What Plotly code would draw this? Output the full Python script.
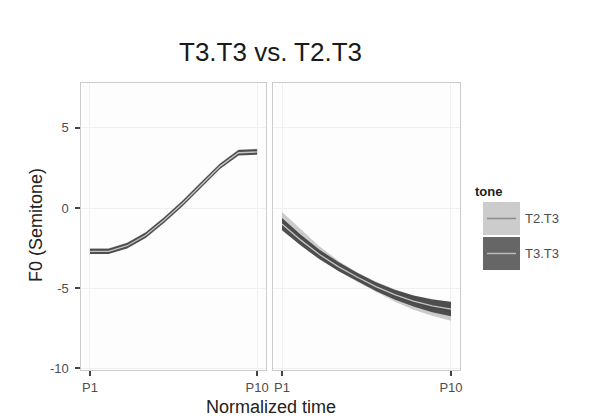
import plotly.graph_objects as go

# ---- data ----
positions = ["P1", "P2", "P3", "P4", "P5", "P6", "P7", "P8", "P9", "P10"]
tones = ["T2.T3", "T3.T3"]

left_t2t3 = [-2.65, -2.65, -2.3, -1.65, -0.7, 0.35, 1.5, 2.65, 3.5, 3.55]
left_t3t3 = [-2.7, -2.7, -2.35, -1.7, -0.75, 0.3, 1.45, 2.6, 3.45, 3.5]
left_se_t2t3 = [0.15, 0.15, 0.15, 0.15, 0.15, 0.15, 0.15, 0.15, 0.15, 0.15]
left_se_t3t3 = [0.17, 0.17, 0.17, 0.17, 0.17, 0.17, 0.17, 0.17, 0.17, 0.17]

right_t2t3 = [-0.75, -1.75, -2.75, -3.6, -4.3, -4.9, -5.45, -5.9, -6.2, -6.45]
right_t3t3 = [-1.0, -2.0, -2.9, -3.65, -4.3, -4.9, -5.4, -5.8, -6.1, -6.3]
right_se_t2t3 = [0.5, 0.42, 0.36, 0.32, 0.3, 0.32, 0.38, 0.45, 0.52, 0.58]
right_se_t3t3 = [0.38, 0.34, 0.3, 0.28, 0.27, 0.27, 0.3, 0.34, 0.4, 0.45]

y_ticks = [-10, -5, 0, 5]
y_ticktext = ["-10 ", "-5 ", "0 ", "5 "]

# ---- styles ----
ribbon_fill = {"T2.T3": "rgba(190,190,190,0.8)", "T3.T3": "rgba(70,70,70,0.95)"}
line_col = {"T2.T3": "#808080", "T3.T3": "#c4c4c4"}
key_fill = {"T2.T3": "#cccccc", "T3.T3": "#666666"}
key_line = {"T2.T3": "#8a8a8a", "T3.T3": "#bbbbbb"}

OFF = 8  # page body margin
W, H = 606 - OFF, 419 - OFF
ML, MT = 81 - OFF, 83 - OFF
PW, PH = 379, 287
MR = W - ML - PW
MB = H - MT - PH


def px(x):
    return (x - OFF - ML) / PW


def py(y):
    return (H - MB - (y - OFF)) / PH


xi = list(range(1, len(positions) + 1))
fig = go.Figure()

panels = [
    ("x", "y", {"T2.T3": (left_t2t3, left_se_t2t3), "T3.T3": (left_t3t3, left_se_t3t3)}),
    ("x2", "y2", {"T2.T3": (right_t2t3, right_se_t2t3), "T3.T3": (right_t3t3, right_se_t3t3)}),
]
for xa, ya, series in panels:
    for tone in tones:
        mean, se = series[tone]
        upper = [m + s for m, s in zip(mean, se)]
        lower = [m - s for m, s in zip(mean, se)]
        fig.add_trace(go.Scatter(
            x=xi + xi[::-1], y=upper + lower[::-1], fill="toself",
            fillcolor=ribbon_fill[tone], line=dict(width=0), mode="lines",
            xaxis=xa, yaxis=ya, showlegend=False, hoverinfo="skip"))
        fig.add_trace(go.Scatter(
            x=xi, y=mean, mode="lines", line=dict(color=line_col[tone], width=1.3),
            xaxis=xa, yaxis=ya, showlegend=False, name=tone))

font_main = "Liberation Sans, Arial, sans-serif"
tickfont = dict(family=font_main, size=13, color="#4d4d4d")

xaxis_common = dict(
    range=[0.52, 10.48], tickvals=[1, 10], ticktext=[positions[0], positions[-1]],
    showgrid=True, gridcolor="#f0f0f0", gridwidth=1, zeroline=False,
    showline=True, mirror=True, linecolor="#cccccc", linewidth=1,
    ticks="outside", ticklen=5, tickcolor="#444444", tickwidth=1.5,
    tickfont=tickfont,
)
yaxis_common = dict(
    range=[-10.1, 7.8], tickvals=y_ticks, ticktext=y_ticktext,
    showgrid=True, gridcolor="#f0f0f0", gridwidth=1, zeroline=False,
    showline=True, mirror=True, linecolor="#cccccc", linewidth=1,
    tickfont=tickfont,
)

fig.update_layout(
    width=W, height=H,
    margin=dict(l=ML, r=MR, t=MT, b=MB, autoexpand=False),
    paper_bgcolor="white", plot_bgcolor="#fdfdfd",
    showlegend=False,
    xaxis=dict(domain=[0, px(266)], anchor="y", **xaxis_common),
    xaxis2=dict(domain=[px(273), 1], anchor="y2", **xaxis_common),
    yaxis=dict(domain=[0, 1], anchor="x", ticks="outside", ticklen=5,
               tickcolor="#444444", tickwidth=1.5, **yaxis_common),
    yaxis2=dict(domain=[0, 1], anchor="x2", ticks="", showticklabels=False, **yaxis_common),
)

ann = [
    dict(text="T3.T3 vs. T2.T3", x=px(270), y=py(52), xref="paper", yref="paper",
         showarrow=False, xanchor="center", yanchor="middle",
         font=dict(family=font_main, size=26, color="#1a1a1a")),
    dict(text="Normalized time", x=px(271), y=py(407), xref="paper", yref="paper",
         showarrow=False, xanchor="center", yanchor="middle",
         font=dict(family=font_main, size=18, color="#222222")),
    dict(text="F0 (Semitone)", x=px(36), y=py(225), xref="paper", yref="paper",
         showarrow=False, xanchor="center", yanchor="middle", textangle=-90,
         font=dict(family=font_main, size=18, color="#222222")),
    dict(text="<b>tone</b>", x=px(473), y=py(191), xref="paper", yref="paper",
         showarrow=False, xanchor="left", yanchor="middle",
         font=dict(family=font_main, size=13, color="#222222")),
]
shapes = []
key_rows = [(202, 235), (237, 270)]
for tone, (y0, y1) in zip(tones, key_rows):
    shapes.append(dict(type="rect", xref="paper", yref="paper",
                       x0=px(483), x1=px(520), y0=py(y1), y1=py(y0),
                       fillcolor=key_fill[tone], line=dict(width=0)))
    ym = (y0 + y1) / 2
    shapes.append(dict(type="line", xref="paper", yref="paper",
                       x0=px(487), x1=px(516), y0=py(ym), y1=py(ym),
                       line=dict(color=key_line[tone], width=1.5)))
    ann.append(dict(text=tone, x=px(523), y=py(ym), xref="paper", yref="paper",
                    showarrow=False, xanchor="left", yanchor="middle",
                    font=dict(family=font_main, size=13, color="#4d4d4d")))

fig.update_layout(annotations=ann, shapes=shapes)
fig.write_html("out.html")
